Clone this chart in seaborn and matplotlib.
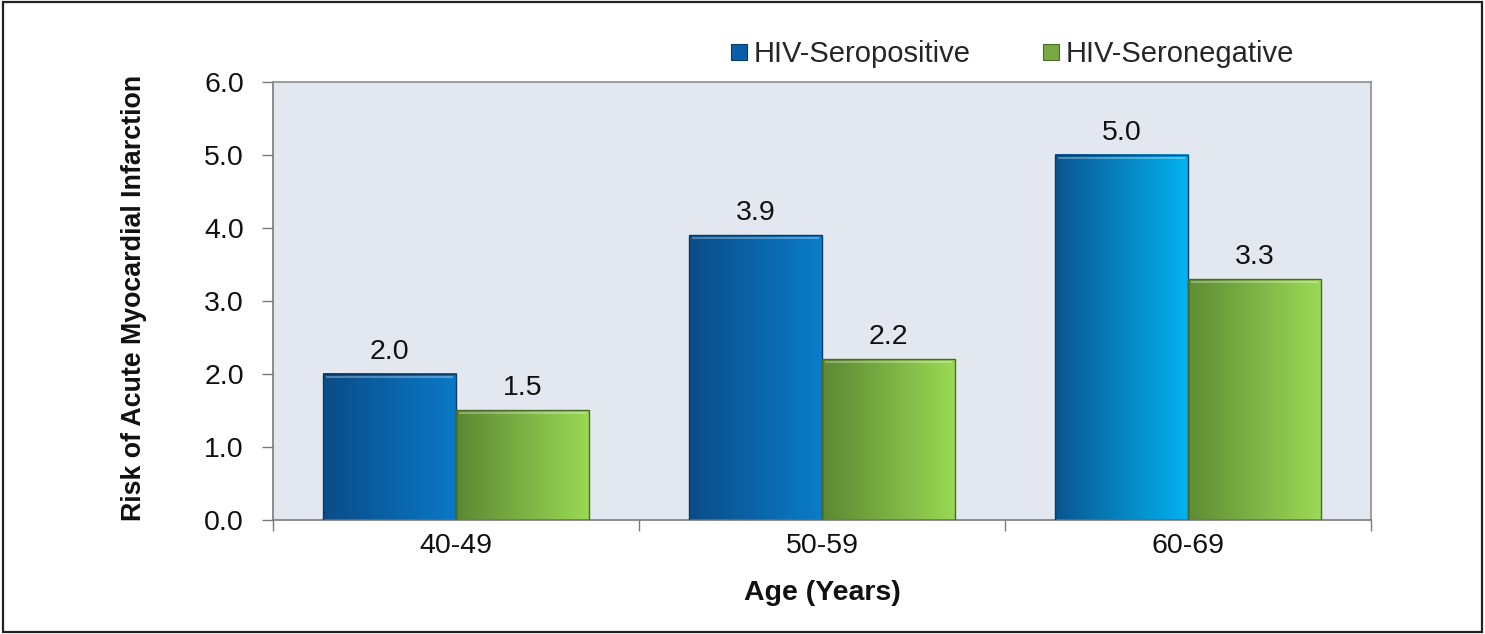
import matplotlib
matplotlib.use("Agg")
import matplotlib.pyplot as plt
import numpy as np
import pandas as pd
import seaborn as sns
from matplotlib.colors import LinearSegmentedColormap
from matplotlib.lines import Line2D
from matplotlib.patches import Rectangle


AGE_GROUPS = ["40-49", "50-59", "60-69"]
SEROPOSITIVE = [2.0, 3.9, 5.0]
SERONEGATIVE = [1.5, 2.2, 3.3]
SERIES = ["HIV-Seropositive", "HIV-Seronegative"]

# left/right gradient ends for each bar (series x age group)
GRADIENTS = {
    "HIV-Seropositive": [("#0a4c86", "#0b79c8"), ("#0a4c86", "#0b7dcc"), ("#0a5590", "#03b3f1")],
    "HIV-Seronegative": [("#5c8833", "#9ad954"), ("#5c8833", "#9ad954"), ("#5f8c35", "#9cda56")],
}
EDGES = {"HIV-Seropositive": "#0a3a68", "HIV-Seronegative": "#4a6b28"}
LEGEND_COLORS = {"HIV-Seropositive": "#0a60a8", "HIV-Seronegative": "#78aa42"}
PLOT_BG = "#e3e8f0"
AXIS_GREY = "#7a7a7a"
FS = 20.5


def build_frame():
    rows = []
    for age, pos, neg in zip(AGE_GROUPS, SEROPOSITIVE, SERONEGATIVE):
        rows.append({"age": age, "status": SERIES[0], "risk": pos})
        rows.append({"age": age, "status": SERIES[1], "risk": neg})
    return pd.DataFrame(rows)


def paint_gradients(ax):
    ramp = np.linspace(0, 1, 256).reshape(1, -1)
    for series, container in zip(SERIES, ax.containers):
        for bar, (left, right) in zip(container, GRADIENTS[series]):
            x0, w, h = bar.get_x(), bar.get_width(), bar.get_height()
            cmap = LinearSegmentedColormap.from_list("bar", [left, right])
            ax.imshow(ramp, extent=[x0, x0 + w, 0, h], aspect="auto", cmap=cmap,
                      origin="lower", zorder=2, interpolation="bicubic")
            bar.set_facecolor("none")
            bar.set_edgecolor(EDGES[series])
            bar.set_linewidth(1.0)
            bar.set_zorder(3)
            # light bevel just under the top edge
            ax.plot([x0 + w * 0.02, x0 + w * 0.98], [h - 0.035, h - 0.035],
                    color="white", alpha=0.35, lw=1.2, zorder=3, solid_capstyle="butt")


def main():
    df = build_frame()
    sns.set_style("white")
    plt.rcParams["font.family"] = ["Liberation Sans", "DejaVu Sans"]

    fig = plt.figure(figsize=(14.85, 6.34), dpi=100)
    ax = fig.add_axes([0.1838, 0.1798, 0.7394, 0.6909])
    ax.set_facecolor(PLOT_BG)

    sns.barplot(data=df, x="age", y="risk", hue="status", hue_order=SERIES,
                width=0.727, gap=0, ax=ax, legend=False, errorbar=None,
                palette=LEGEND_COLORS)
    paint_gradients(ax)

    for container in ax.containers:
        ax.bar_label(container, fmt="%.1f", padding=6.5, fontsize=FS, color="#111111")

    ax.set_xlim(-0.5, 2.5)
    ax.set_ylim(0, 6)
    ax.set_yticks(np.arange(0, 7, 1))
    ax.set_yticklabels([f"{v:.1f}" for v in range(7)])
    ax.tick_params(axis="y", length=8, width=1, color=AXIS_GREY, pad=13, labelsize=FS,
                   left=True, labelcolor="#111111")

    ax.set_xticks(range(len(AGE_GROUPS)))
    ax.set_xticklabels(AGE_GROUPS)
    ax.set_xticks([-0.5, 0.5, 1.5, 2.5], minor=True)
    ax.tick_params(axis="x", which="major", length=0, pad=9, labelsize=FS, labelcolor="#111111")
    ax.tick_params(axis="x", which="minor", length=8, width=1, color=AXIS_GREY, bottom=True)

    for side in ["left", "bottom", "top", "right"]:
        ax.spines[side].set_visible(True)
        ax.spines[side].set_color(AXIS_GREY if side in ("left", "bottom") else "#8e8e8e")
        ax.spines[side].set_linewidth(1.2)

    ax.set_xlabel("Age (Years)", fontsize=FS, fontweight="bold", color="#111111")
    ax.xaxis.set_label_coords(0.5, -0.137)
    ax.set_ylabel("Risk of Acute Myocardial Infarction", fontsize=19.3, fontweight="bold",
                  color="#111111")
    ax.yaxis.set_label_coords(-0.115, 0.508)

    handles = [Line2D([], [], marker="s", linestyle="", markersize=11.5,
                      markerfacecolor=LEGEND_COLORS[s], markeredgecolor=EDGES[s],
                      markeredgewidth=0.8) for s in SERIES]
    fig.legend(handles, SERIES, ncol=2, loc="center left", bbox_to_anchor=(0.491, 0.915),
               frameon=False, fontsize=21, handlelength=0.7, handletextpad=0.15,
               columnspacing=2.4, borderpad=0, borderaxespad=0)

    fig.patches.append(Rectangle((0.002, 0.003), 0.996, 0.994, transform=fig.transFigure,
                                 fill=False, edgecolor="#222222", linewidth=1.6))

    fig.savefig("out.png", dpi=100)
    plt.close(fig)


if __name__ == "__main__":
    main()
